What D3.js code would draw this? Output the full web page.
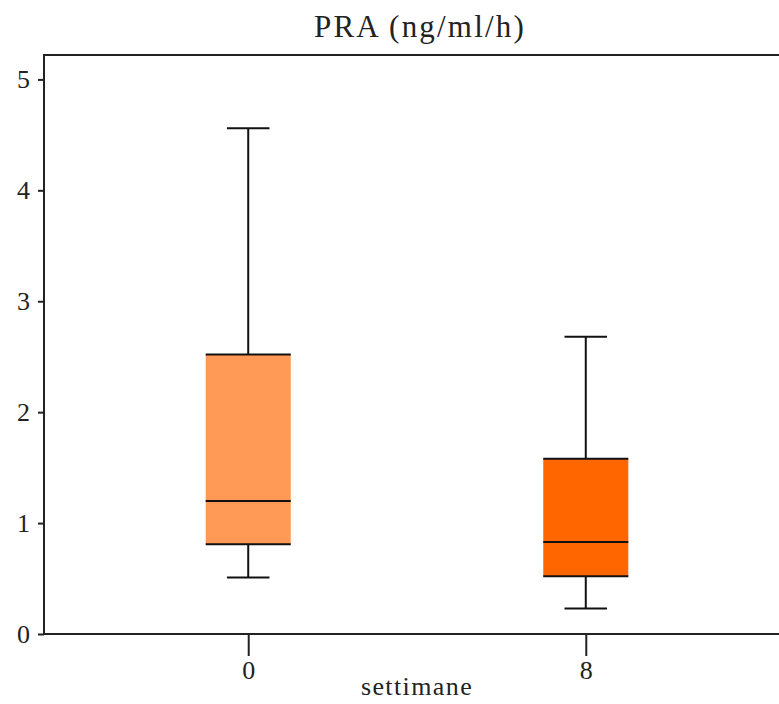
<!DOCTYPE html>
<html lang="it">
<head>
<meta charset="UTF-8">
<title>PRA (ng/ml/h)</title>
<script src="https://d3js.org/d3.v7.min.js"></script>
<style>
  body { margin: 0; background: #fff; }
  svg { display: block; }
  text { font-family: "Liberation Serif", "DejaVu Serif", serif; fill: #222; }
  .title { font-size: 31px; letter-spacing: 2.2px; }
  .tick-label { font-size: 26px; }
  .axis-label { font-size: 26px; letter-spacing: 1.4px; }
</style>
</head>
<body>
<svg id="chart" width="779" height="704"></svg>
<script>
  // values
  const categories = ['0', '8'];
  const whiskerLow = [0.51, 0.23];
  const q1 = [0.81, 0.52];
  const median = [1.20, 0.83];
  const q3 = [2.52, 1.58];
  const whiskerHigh = [4.56, 2.68];
  const yTicks = [0, 1, 2, 3, 4, 5];
  const boxColors = ['#ff9955', '#ff6600'];

  const data = categories.map((c, i) => ({
    cat: c, lo: whiskerLow[i], q1: q1[i], med: median[i], q3: q3[i], hi: whiskerHigh[i], color: boxColors[i]
  }));

  const svg = d3.select('#chart');
  const plotLeft = 44, plotRight = 790, plotTop = 55, plotBottom = 634;

  const x = d3.scalePoint()
    .domain(categories)
    .range([plotLeft, plotRight])
    .padding(0.605);
  const y = d3.scaleLinear()
    .domain([0, 5.22])
    .range([plotBottom, plotTop]);

  const step = x.step();
  const boxW = step * 0.252;
  const capW = boxW * 0.5;

  // frame
  svg.append('rect')
    .attr('x', plotLeft).attr('y', plotTop)
    .attr('width', plotRight - plotLeft).attr('height', plotBottom - plotTop)
    .attr('fill', 'none').attr('stroke', '#222').attr('stroke-width', 2);

  // y axis
  const yAxis = svg.append('g')
    .attr('transform', `translate(${plotLeft},0)`)
    .call(d3.axisLeft(y).tickValues(yTicks).tickSize(6).tickPadding(8).tickFormat(d3.format('d')));
  yAxis.select('.domain').remove();
  yAxis.selectAll('line').attr('stroke', '#222').attr('stroke-width', 2);
  yAxis.selectAll('text').attr('class', 'tick-label').attr('font-size', null).attr('font-family', null);

  // x axis
  const xAxis = svg.append('g')
    .attr('transform', `translate(0,${plotBottom})`)
    .call(d3.axisBottom(x).tickSize(22).tickPadding(5));
  xAxis.select('.domain').remove();
  xAxis.selectAll('line').attr('stroke', '#222').attr('stroke-width', 2);
  xAxis.selectAll('text').attr('class', 'tick-label').attr('font-size', null).attr('font-family', null);

  // boxes
  const g = svg.selectAll('.box').data(data).enter().append('g').attr('class', 'box');

  g.append('line')
    .attr('x1', d => x(d.cat)).attr('x2', d => x(d.cat))
    .attr('y1', d => y(d.lo)).attr('y2', d => y(d.q1))
    .attr('stroke', '#111').attr('stroke-width', 2);
  g.append('line')
    .attr('x1', d => x(d.cat)).attr('x2', d => x(d.cat))
    .attr('y1', d => y(d.q3)).attr('y2', d => y(d.hi))
    .attr('stroke', '#111').attr('stroke-width', 2);
  g.append('line')
    .attr('x1', d => x(d.cat) - capW / 2).attr('x2', d => x(d.cat) + capW / 2)
    .attr('y1', d => y(d.lo)).attr('y2', d => y(d.lo))
    .attr('stroke', '#111').attr('stroke-width', 2);
  g.append('line')
    .attr('x1', d => x(d.cat) - capW / 2).attr('x2', d => x(d.cat) + capW / 2)
    .attr('y1', d => y(d.hi)).attr('y2', d => y(d.hi))
    .attr('stroke', '#111').attr('stroke-width', 2);

  g.append('rect')
    .attr('x', d => x(d.cat) - boxW / 2)
    .attr('y', d => y(d.q3))
    .attr('width', boxW)
    .attr('height', d => y(d.q1) - y(d.q3))
    .attr('fill', d => d.color);
  // top and bottom edges of the box, and the median
  g.append('line')
    .attr('x1', d => x(d.cat) - boxW / 2).attr('x2', d => x(d.cat) + boxW / 2)
    .attr('y1', d => y(d.q3)).attr('y2', d => y(d.q3))
    .attr('stroke', '#111').attr('stroke-width', 2);
  g.append('line')
    .attr('x1', d => x(d.cat) - boxW / 2).attr('x2', d => x(d.cat) + boxW / 2)
    .attr('y1', d => y(d.q1)).attr('y2', d => y(d.q1))
    .attr('stroke', '#111').attr('stroke-width', 2);
  g.append('line')
    .attr('x1', d => x(d.cat) - boxW / 2).attr('x2', d => x(d.cat) + boxW / 2)
    .attr('y1', d => y(d.med)).attr('y2', d => y(d.med))
    .attr('stroke', '#111').attr('stroke-width', 2);

  svg.append('text')
    .attr('class', 'title')
    .attr('x', 420).attr('y', 37)
    .attr('text-anchor', 'middle')
    .text('PRA (ng/ml/h)');

  svg.append('text')
    .attr('class', 'axis-label')
    .attr('x', 417).attr('y', 695)
    .attr('text-anchor', 'middle')
    .text('settimane');
</script>
</body>
</html>
